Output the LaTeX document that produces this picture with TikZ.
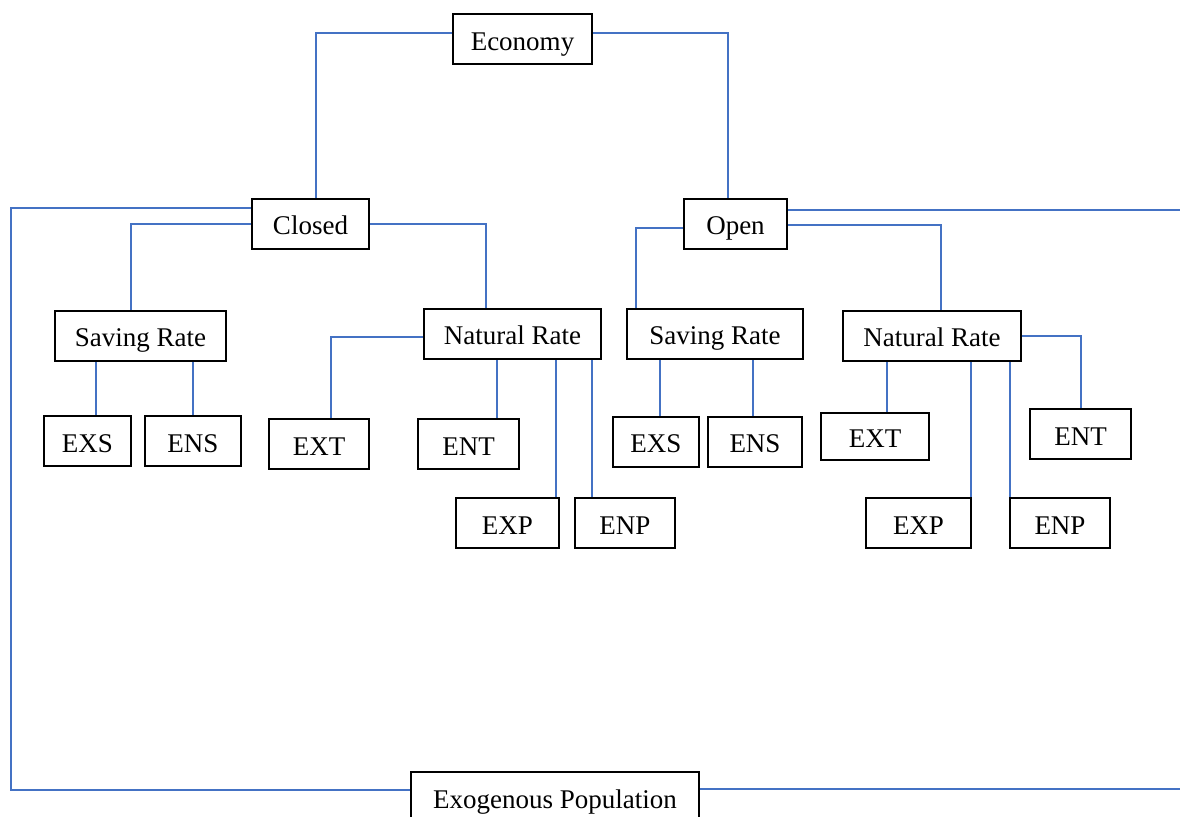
\documentclass[tikz,border=0pt]{standalone}
\usepackage{fontspec}
\setmainfont{Liberation Serif}
\definecolor{linkblue}{RGB}{68,114,196}
\tikzset{
  box/.style={draw, line width=1pt, minimum height=25pt, inner sep=2pt, text height=11pt, text depth=0pt, font=\fontsize{13.5}{16}\selectfont},
  conn/.style={draw=linkblue, line width=1pt}
}
\begin{document}
\begin{tikzpicture}[x=0.5pt, y=-0.5pt]
    \useasboundingbox (0,0) rectangle (1180,816);
    \clip (0,0) rectangle (1180,816);

    \node[box, minimum width=69.5pt] (eco) at (522.5, 39) {Economy};
    \node[box, minimum width=58.5pt] (closed) at (310.5, 223.5) {Closed};
    \node[box, minimum width=51.5pt] (open) at (735.5, 223.5) {Open};

    \node[box, minimum width=85.5pt] (savL) at (140.5, 335.5) {Saving Rate};
    \node[box, minimum width=88.5pt] (natL) at (512.5, 333.5) {Natural Rate};
    \node[box, minimum width=88pt] (savR) at (715, 333.5) {Saving Rate};
    \node[box, minimum width=89pt] (natR) at (932, 335.5) {Natural Rate};

    \node[box, minimum width=43.5pt] (exsL) at (87.5, 441) {EXS};
    \node[box, minimum width=48pt] (ensL) at (193, 441) {ENS};
    \node[box, minimum width=50pt] (extL) at (319, 444) {EXT};
    \node[box, minimum width=50.5pt] (entL) at (468.5, 444) {ENT};
    \node[box, minimum width=51.5pt] (expL) at (507.5, 523) {EXP};
    \node[box, minimum width=50pt] (enpL) at (625, 523) {ENP};

    \node[box, minimum width=43pt] (exsR) at (656, 441.5) {EXS};
    \node[box, minimum width=47pt] (ensR) at (755, 441.5) {ENS};
    \node[box, minimum width=54pt, minimum height=23.5pt] (extR) at (875, 436.5) {EXT};
    \node[box, minimum width=50.5pt] (entR) at (1080.5, 434) {ENT};
    \node[box, minimum width=52.5pt] (expR) at (918.5, 523) {EXP};
    \node[box, minimum width=50pt] (enpR) at (1060, 523) {ENP};

    \node[box, minimum width=144pt] (exo) at (555, 797) {Exogenous Population};

    \coordinate (lft) at (11, 500);
    \coordinate (rgt) at (1200, 500);

    % economy
    \draw[conn] ([yshift=3pt]eco.west) -| ([xshift=2.75pt]closed.north);
    \draw[conn] ([yshift=3pt]eco.east) -| ([xshift=-3.75pt]open.north);

    % closed
    \draw[conn] (closed.west) -| ([xshift=-4.75pt]savL.north);
    \draw[conn] (closed.east) -| ([xshift=-13.25pt]natL.north);
    \draw[conn] ([yshift=7.75pt]closed.west) -| (lft) |- ([yshift=3.5pt]exo.west);

    % closed, saving rate
    \draw[conn] ([xshift=4.25pt]exsL.north) -- ([xshift=4.25pt]exsL.north |- savL.south);
    \draw[conn] (ensL.north) -- (ensL.north |- savL.south);

    % closed, natural rate
    \draw[conn] ([yshift=-1.75pt]natL.west) -| ([xshift=6pt]extL.north);
    \draw[conn] ([xshift=14.25pt]entL.north) -- ([xshift=14.25pt]entL.north |- natL.south);
    \draw[conn] ([xshift=24.25pt]expL.north) -- ([xshift=24.25pt]expL.north |- natL.south);
    \draw[conn] ([xshift=-16.5pt]enpL.north) -- ([xshift=-16.5pt]enpL.north |- natL.south);

    % open
    \draw[conn] ([yshift=-2.25pt]open.west) -| ([xshift=-39.5pt]savR.north);
    \draw[conn] ([yshift=-0.75pt]open.east) -| ([xshift=4.5pt]natR.north);
    \draw[conn] ([yshift=6.75pt]open.east) -| (rgt) |- ([yshift=4pt]exo.east);

    % open, saving rate
    \draw[conn] ([xshift=2pt]exsR.north) -- ([xshift=2pt]exsR.north |- savR.south);
    \draw[conn] ([xshift=-1pt]ensR.north) -- ([xshift=-1pt]ensR.north |- savR.south);

    % open, natural rate
    \draw[conn] ([xshift=6pt]extR.north) -- ([xshift=6pt]extR.north |- natR.south);
    \draw[conn] ([xshift=26.25pt]expR.north) -- ([xshift=26.25pt]expR.north |- natR.south);
    \draw[conn] ([xshift=-25pt]enpR.north) -- ([xshift=-25pt]enpR.north |- natR.south);
    \draw[conn] (natR.east) -| (entR.north);
\end{tikzpicture}
\end{document}
